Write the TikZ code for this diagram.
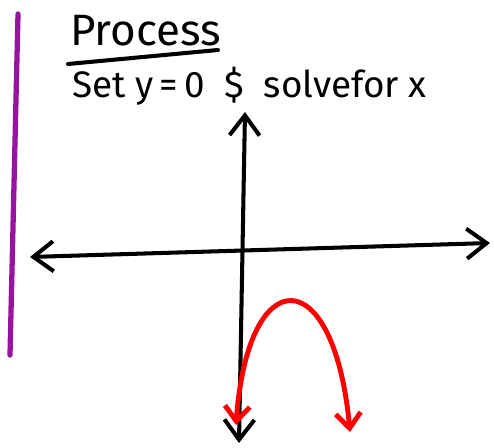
\documentclass[tikz,border=0pt]{standalone}
\usepackage{fontspec}
\setmainfont{Fira Sans}
\usepackage{xcolor}
\usetikzlibrary{positioning,arrows.meta,calc}
\definecolor{inkblack}{RGB}{0,0,0}
\definecolor{inkred}{RGB}{255,0,0}
\definecolor{inkpurple}{RGB}{150,20,160}
\tikzset{
    axis/.style={{Straight Barb[length=4mm,width=6mm]}-{Straight Barb[length=4mm,width=6mm]}, line width=2.3pt, draw=inkblack, line cap=round},
    curve/.style={{Straight Barb[length=3mm,width=5mm]}-{Straight Barb[length=3mm,width=5mm]}, line width=2.8pt, draw=inkred, line cap=round},
    margin/.style={line width=3pt, draw=inkpurple, line cap=round},
    title/.style={font=\fontsize{25}{29}\selectfont, inner sep=0pt, anchor=base west},
    step text/.style={font=\fontsize{21}{25}\selectfont, inner sep=0pt, anchor=base west}
}
\begin{document}
\begin{tikzpicture}[x=0.02cm, y=-0.02cm]
\useasboundingbox (0,0) rectangle (494,448);
% margin line
\coordinate (mtop) at (18,14);
\coordinate (mbot) at (10,355);
\draw[margin] (mtop) -- (mbot);
% heading
\node[title] (head) at (70,46) {Process};
\coordinate (ulleft) at (68,64);
\coordinate (ulright) at (218,50);
\draw[line width=2.3pt, line cap=round] (ulleft) -- (ulright);
\node[step text] (rule) at (72,98) {Set y\,=\,0 \ \$ \ solvefor x};
% axes
\coordinate (vtop) at (245,112);
\coordinate (vbot) at (239,443);
\coordinate (hleft) at (30,257);
\coordinate (hright) at (490,243);
\draw[axis] (vbot) -- (vtop);
\draw[axis] (hleft) -- (hright);
% parabola opening down
\coordinate (pleft) at (236,425);
\coordinate (pright) at (350,432);
\draw[curve] (pleft) .. controls (248,260) and (334,260) .. (pright);
\end{tikzpicture}
\end{document}
